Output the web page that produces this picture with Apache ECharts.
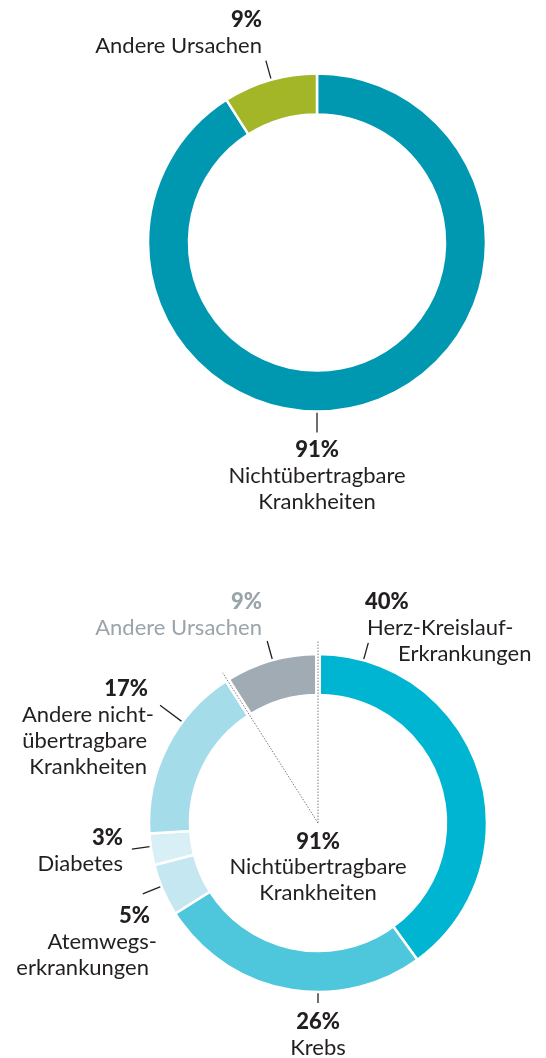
<!DOCTYPE html>
<html><head><meta charset="utf-8">
<script src="https://cdn.jsdelivr.net/npm/echarts@6/dist/echarts.min.js"></script>
<style>html,body{margin:0;padding:0;background:#fff}#c{width:546px;height:1058px}</style>
</head><body><div id="c"></div>
<script>
// ---- DATA ----
const topCategories = ['Nichtübertragbare Krankheiten', 'Andere Ursachen'];
const topValues = [91, 9];
const topLabelText = [['Nichtübertragbare', 'Krankheiten'], ['Andere Ursachen']];

const bottomCategories = ['Herz-Kreislauf-Erkrankungen', 'Krebs', 'Atemwegserkrankungen', 'Diabetes', 'Andere nichtübertragbare Krankheiten', 'Andere Ursachen'];
const bottomValues = [40, 26, 5, 3, 17, 9];
const bottomLabelText = [['Herz-Kreislauf-', 'Erkrankungen'], ['Krebs'], ['Atemwegs-', 'erkrankungen'], ['Diabetes'], ['Andere nicht-', 'übertragbare', 'Krankheiten'], ['Andere Ursachen']];

const centerValue = 91;
const centerText = ['Nichtübertragbare', 'Krankheiten'];

// ---- STYLE / LAYOUT ----
const F = 'Lato';
const FS = 22, LH = 26;
const BOLD = 900;
const TXT = '#231f20', GRAYTXT = '#9aa4ab';
const topColors = ['#0098b1', '#a3b627'];
const bottomColors = ['#00b5d1', '#4ec6dc', '#c4e7f1', '#d7eff5', '#a4dcea', '#a1abb3'];
const C1 = [317, 242.5], C2 = [318, 823];
const R_IN = 129, R_OUT = 168;

// label line angle (deg clockwise from top), radii, text anchor offset from center
const topLayout = [
  {ang: 180, r1: 150, r2: 190, dx: 0, dy: 194.5, align: 'center'},
  {ang: 344.3, r1: 150, r2: 189, dx: -55, dy: -235.5, align: 'right'}
];
const bottomLayout = [
  {ang: 15.6, r1: 150, r2: 187, dx: 47, dy: -234, align: 'left', indent: [0, 2, 33]},
  {ang: 180, r1: 152, r2: 180, dx: 0, dy: 186, align: 'center'},
  {ang: 248, r1: 151, r2: 189, dx: -161, dy: 80, align: 'right', indent: [7, 0, 8]},
  {ang: 262, r1: 152, r2: 188, dx: -195, dy: 2, align: 'right'},
  {ang: 306.7, r1: 155, r2: 197, dx: -164, dy: -147, align: 'right', indent: [6, 0, 7, 7]},
  {ang: 344.4, r1: 149, r2: 189, dx: -56, dy: -234, align: 'right'}
];

function pt(c, ang, r) {
  const a = ang * Math.PI / 180;
  return [c[0] + r * Math.sin(a), c[1] - r * Math.cos(a)];
}

function makeLabel(pct, lines, lay, color) {
  const rich = {};
  const parts = [];
  [pct + '%'].concat(lines).forEach((t, k) => {
    const key = 's' + k;
    const ind = (lay.indent && lay.indent[k]) || 0;
    rich[key] = {
      fontFamily: F, fontSize: FS, lineHeight: LH, color: color,
      fontWeight: k === 0 ? BOLD : 'normal',
      padding: lay.align === 'right' ? [0, ind, 0, 0] : (lay.align === 'left' ? [0, 0, 0, ind] : 0)
    };
    parts.push('{' + key + '|' + t + '}');
  });
  return {show: true, formatter: parts.join('\n'), rich: rich, align: lay.align};
}

function buildData(cats, vals, texts, colors, layout, grayIdx) {
  return vals.map((v, i) => ({
    value: v, name: cats[i],
    itemStyle: {color: colors[i]},
    label: makeLabel(v, texts[i], layout[i], i === grayIdx ? GRAYTXT : TXT)
  }));
}

function layoutFn(center, layout) {
  return function (params) {
    const L = layout[params.dataIndex];
    return {
      x: center[0] + L.dx, y: center[1] + L.dy,
      align: L.align, verticalAlign: 'top',
      labelLinePoints: [pt(center, L.ang, L.r1), pt(center, L.ang, L.r2)]
    };
  };
}

function pieSeries(center, data, layout) {
  return {
    type: 'pie', center: center, radius: [R_IN - 1, R_OUT + 1],
    startAngle: 90, clockwise: true, silent: true, avoidLabelOverlap: false,
    itemStyle: {borderColor: '#fff', borderWidth: 2.5},
    label: {show: true, position: 'outside'},
    labelLine: {show: true, lineStyle: {color: '#231f20', width: 1.3}},
    labelLayout: layoutFn(center, layout),
    emphasis: {disabled: true},
    data: data
  };
}

// gap / divider lines around the "Andere Ursachen" slice in the lower chart
const total2 = bottomValues.reduce((a, b) => a + b, 0);
const grayIdx = bottomValues.length - 1;
const grayStartAng = bottomValues.slice(0, grayIdx).reduce((a, b) => a + b, 0) / total2 * 360;
const gapAngles = [0, grayStartAng];
const dotLen = [183, 178];
const graphics = [];
gapAngles.forEach((ang, k) => {
  const a = pt(C2, ang, R_IN - 4), b = pt(C2, ang, R_OUT + 4);
  graphics.push({type: 'line', z: 100, shape: {x1: a[0], y1: a[1], x2: b[0], y2: b[1]},
    style: {stroke: '#fff', lineWidth: 6}});
  const e = pt(C2, ang, dotLen[k]);
  graphics.push({type: 'line', z: 101, shape: {x1: C2[0], y1: C2[1], x2: e[0], y2: e[1]},
    style: {stroke: '#7d7d7d', lineWidth: 1, lineDash: [1.5, 1.5]}});
});
graphics.push({
  type: 'text', z: 102, x: C2[0], y: C2[1] + 6,
  style: {
    text: '{b|' + centerValue + '%}\n' + centerText.map(t => '{n|' + t + '}').join('\n'),
    align: 'center', verticalAlign: 'top',
    rich: {
      b: {fontFamily: F, fontSize: FS, fontWeight: BOLD, lineHeight: 25.5, fill: TXT, color: TXT, align: 'center'},
      n: {fontFamily: F, fontSize: FS, lineHeight: 25.5, fill: TXT, color: TXT, align: 'center'}
    }
  }
});

const chart = echarts.init(document.getElementById('c'), null, {renderer: 'canvas'});
chart.setOption({
  animation: false,
  backgroundColor: '#fff',
  series: [
    pieSeries(C1, buildData(topCategories, topValues, topLabelText, topColors, topLayout, -1), topLayout),
    pieSeries(C2, buildData(bottomCategories, bottomValues, bottomLabelText, bottomColors, bottomLayout, grayIdx), bottomLayout)
  ],
  graphic: graphics
});
</script>
</body></html>
